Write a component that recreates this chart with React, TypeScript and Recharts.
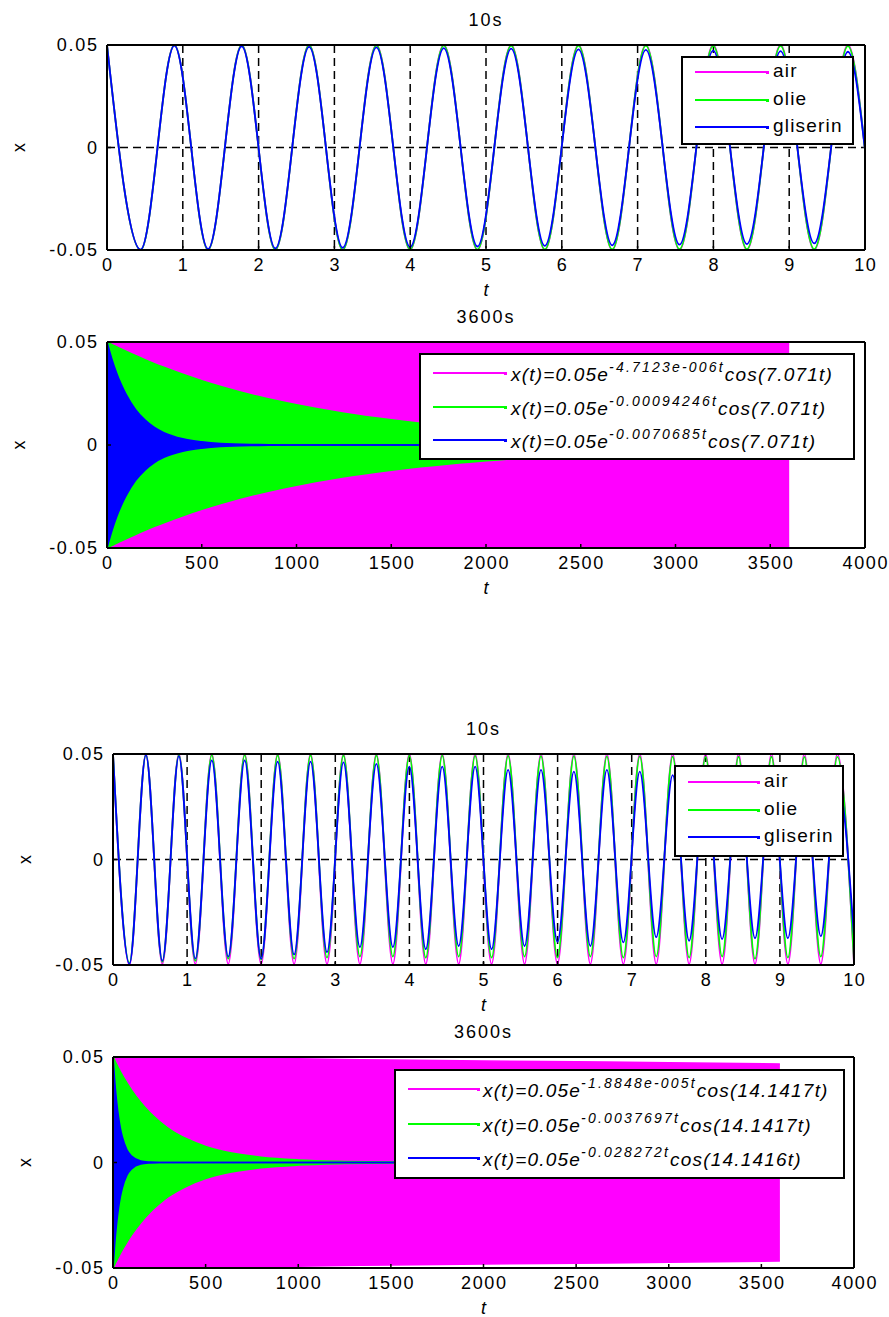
import React from 'react';
import { ComposedChart, Line, Area, XAxis, YAxis, CartesianGrid, Legend, Label } from 'recharts';

const FONT = '"Liberation Sans", Arial, Helvetica, sans-serif';
const COLORS = ['#ff00ff', '#00ff00', '#0000ff'];
const NAMES = ['air', 'olie', 'gliserin'];

// panel 1: 10s, w = 7.071 rad/s (peaks and troughs)
const t10a = [0, 0.444, 0.889, 1.333, 1.777, 2.221, 2.666, 3.110, 3.554, 3.999, 4.443, 4.887, 5.332, 5.776, 6.220, 6.665, 7.109, 7.553, 7.997, 8.442, 8.886, 9.330, 9.775, 10];
const air10a = [0.05, -0.05, 0.05, -0.05, 0.05, -0.05, 0.05, -0.05, 0.05, -0.05, 0.05, -0.05, 0.05, -0.05, 0.05, -0.05, 0.05, -0.05, 0.05, -0.05, 0.05, -0.05, 0.05, -0.001];
const olie10a = [0.05, -0.05, 0.0499, -0.0499, 0.0499, -0.0499, 0.0499, -0.0499, 0.0498, -0.0498, 0.0498, -0.0498, 0.0497, -0.0497, 0.0497, -0.0497, 0.0497, -0.0496, 0.0496, -0.0496, 0.0496, -0.0496, 0.0495, -0.001];
const glis10a = [0.05, -0.0498, 0.0497, -0.0495, 0.0494, -0.0492, 0.0491, -0.0489, 0.0488, -0.0486, 0.0485, -0.0483, 0.0482, -0.048, 0.0479, -0.0477, 0.0476, -0.0474, 0.0473, -0.0471, 0.047, -0.0468, 0.0467, -0.001];

// panel 3: 10s, w = 14.14 rad/s
const t10b = [0, 0.222, 0.444, 0.666, 0.889, 1.111, 1.333, 1.555, 1.777, 1.999, 2.222, 2.444, 2.666, 2.888, 3.110, 3.332, 3.554, 3.777, 3.999, 4.221, 4.443, 4.665, 4.887, 5.109, 5.332, 5.554, 5.776, 5.998, 6.220, 6.442, 6.665, 6.887, 7.109, 7.331, 7.553, 7.775, 7.997, 8.220, 8.442, 8.664, 8.886, 9.108, 9.330, 9.552, 9.775, 10];
const air10b = [
  0.05, -0.05, 0.05, -0.0495, 0.05, -0.0495, 0.05, -0.0495, 0.05, -0.0495, 0.05, -0.0495,
  0.05, -0.0495, 0.05, -0.0495, 0.05, -0.0495, 0.05, -0.0495, 0.05, -0.0495, 0.05, -0.0495,
  0.05, -0.0495, 0.05, -0.0495, 0.05, -0.0495, 0.05, -0.0495, 0.05, -0.0495, 0.05, -0.0495,
  0.05, -0.0495, 0.05, -0.0495, 0.05, -0.0495, 0.05, -0.0495, 0.05, -0.0495,
];
const olie10b = [
  0.05, -0.049, 0.0497, -0.0485, 0.0496, -0.048, 0.0495, -0.047, 0.0495, -0.0475, 0.0494, -0.047,
  0.0494, -0.0465, 0.0493, -0.046, 0.0493, -0.046, 0.0492, -0.0465, 0.0492, -0.046, 0.0491, -0.0465,
  0.0491, -0.046, 0.049, -0.0465, 0.049, -0.046, 0.0489, -0.0465, 0.0489, -0.046, 0.0488, -0.0465,
  0.0488, -0.046, 0.0487, -0.047, 0.0487, -0.0465, 0.0486, -0.046, 0.0486, -0.0482,
];
const glis10b = [
  0.05, -0.0495, 0.0495, -0.048, 0.049, -0.047, 0.047, -0.046, 0.047, -0.047, 0.0464, -0.045,
  0.0464, -0.0439, 0.046, -0.0415, 0.0453, -0.0415, 0.044, -0.0425, 0.044, -0.041, 0.044, -0.0425,
  0.0425, -0.041, 0.0425, -0.039, 0.0416, -0.041, 0.0425, -0.0393, 0.0416, -0.0368, 0.04, -0.0385,
  0.04, -0.0377, 0.0394, -0.0373, 0.039, -0.0373, 0.0384, -0.0363, 0.038, -0.0368,
];

// panel 2: 3600s envelopes, w = 7.071 rad/s
const t3600a = [0, 25, 50, 75, 100, 150, 200, 250, 300, 400, 500, 600, 800, 1000, 1250, 1500, 2000, 2500, 3000, 3600];
const airEnvA = [0.05, 0.05, 0.05, 0.05, 0.05, 0.05, 0.05, 0.0499, 0.0499, 0.0499, 0.0499, 0.0499, 0.0498, 0.0498, 0.0497, 0.0496, 0.0495, 0.0494, 0.0493, 0.0492];
const olieEnvA = [0.05, 0.0488, 0.0477, 0.0466, 0.0455, 0.0434, 0.0414, 0.0395, 0.0377, 0.0343, 0.0312, 0.0284, 0.0235, 0.0195, 0.0154, 0.0122, 0.0076, 0.0047, 0.003, 0.0017];
const glisEnvA = [0.05, 0.0419, 0.0351, 0.0294, 0.0247, 0.0173, 0.0122, 0.0085, 0.006, 0.003, 0.0015, 0.0007, 0.0002, 0, 0, 0, 0, 0, 0, 0];

// panel 4: 3600s envelopes, w = 14.14 rad/s
const t3600b = [0, 10, 20, 30, 40, 50, 75, 100, 150, 200, 250, 300, 400, 500, 600, 800, 1000, 1250, 1500, 2000, 2500, 3000, 3600];
const airEnvB = [0.05, 0.05, 0.05, 0.05, 0.05, 0.05, 0.05, 0.05, 0.0499, 0.0498, 0.0498, 0.0497, 0.0496, 0.0495, 0.0494, 0.0493, 0.0491, 0.0488, 0.0486, 0.0481, 0.0477, 0.0473, 0.0467];
const olieEnvB = [0.05, 0.0482, 0.0464, 0.0447, 0.043, 0.0414, 0.0377, 0.0343, 0.0284, 0.0235, 0.0195, 0.0161, 0.0111, 0.0076, 0.0052, 0.0025, 0.0012, 0.0005, 0.0002, 0, 0, 0, 0];
const glisEnvB = [0.05, 0.0377, 0.0284, 0.0214, 0.0161, 0.0122, 0.006, 0.003, 0.0007, 0.0002, 0, 0, 0, 0, 0, 0, 0, 0, 0, 0, 0, 0, 0];

const xTicks10 = [0, 1, 2, 3, 4, 5, 6, 7, 8, 9, 10];
const xTicks3600 = [0, 500, 1000, 1500, 2000, 2500, 3000, 3500, 4000];
const yTicks = [-0.05, 0, 0.05];

const legendExpA = ['-4.7123e-006t', '-0.00094246t', '-0.0070685t'];
const legendCosA = ['cos(7.071t)', 'cos(7.071t)', 'cos(7.071t)'];
const legendExpB = ['-1.8848e-005t', '-0.0037697t', '-0.028272t'];
const legendCosB = ['cos(14.1417t)', 'cos(14.1417t)', 'cos(14.1416t)'];

const toLines = (t: number[], a: number[], o: number[], g: number[]) =>
  t.map((tt, i) => ({ t: tt, air: a[i], olie: o[i], glis: g[i] }));
const toBands = (t: number[], a: number[], o: number[], g: number[]) =>
  t.map((tt, i) => ({ t: tt, air: [-a[i], a[i]], olie: [-o[i], o[i]], glis: [-g[i], g[i]] }));

const FS = 18;
const LS = 1.7;

const BottomTick = (props: any) => (
  <text x={props.x + LS / 2} y={props.y} textAnchor="middle" fontFamily={FONT} fontSize={FS} letterSpacing={LS} fill="#000">
    {props.payload.value}
  </text>
);
const LeftTick = (props: any) => (
  <text x={props.x + LS} y={props.y} dy="0.36em" textAnchor="end" fontFamily={FONT} fontSize={FS} letterSpacing={LS} fill="#000">
    {props.payload.value === 0 ? '0' : String(props.payload.value)}
  </text>
);
const NoTick = () => <g />;

type Panel = {
  top: number; height: number; left: number; right: number; plotTop: number; plotBottom: number;
  title: string; xMax: number; xTicks: number[];
  legend: { left: number; top: number; width: number; height: number; lineX: number; lineLen: number; textX: number; rows: number[]; textTop: number };
};

const W = 889;
const AX = { stroke: '#000', strokeWidth: 2 };
const TL = { stroke: '#000', strokeWidth: 1.5 };

function LegendBox({ spec, labels, italic }: { spec: Panel['legend']; labels: React.ReactNode[]; italic?: boolean }) {
  return (
    <div style={{ position: 'relative', width: spec.width, height: spec.height, border: '2px solid #000', boxSizing: 'border-box', background: '#fff' }}>
      {labels.map((lab, i) => (
        <React.Fragment key={i}>
          <div style={{ position: 'absolute', left: spec.lineX - 2, top: spec.rows[i] - 2.8, width: spec.lineLen, height: 1.6, background: COLORS[i] }} />
          <div style={{ position: 'absolute', left: spec.lineX + spec.lineLen - 3.5, top: spec.rows[i] - 3.5, width: 3, height: 3, background: COLORS[i] }} />
          <div
            style={{
              position: 'absolute', left: spec.textX - 2, top: spec.rows[i] - 2 + spec.textTop, lineHeight: '22px', whiteSpace: 'nowrap',
              fontFamily: FONT, fontSize: 19, letterSpacing: 1.2, color: '#000', fontStyle: italic ? 'italic' : 'normal',
            }}
          >
            {lab}
          </div>
        </React.Fragment>
      ))}
    </div>
  );
}

const formula = (exp: string, tail: string) => (
  <span>
    x(t)=0.05e
    <span style={{ fontSize: 14, letterSpacing: 2.2, position: 'relative', top: -9 }}>{exp}</span>
    {tail}
  </span>
);

function Frame({ p, children, legend }: { p: Panel; children: React.ReactNode; legend: React.ReactNode }) {
  const cx = (p.left + p.right) / 2;
  const cy = (p.plotTop + p.plotBottom) / 2;
  return (
    <div style={{ position: 'absolute', left: 0, top: p.top }}>
      <ComposedChart
        width={W}
        height={p.height}
        margin={{ top: p.plotTop - 1, bottom: p.height - p.plotBottom - 1, left: p.left - 1, right: W - p.right - 1 }}
      >
        {children}
        <XAxis
          dataKey="t" type="number" domain={[0, p.xMax]} ticks={p.xTicks} interval={0} height={1}
          axisLine={AX} tickLine={TL} tickSize={-4} tickMargin={25} tick={BottomTick}
        >
          <Label
            value="t"
            content={() => (
              <text x={cx} y={p.plotBottom + 46} textAnchor="middle" fontFamily={FONT} fontSize={FS} fontStyle="italic" fill="#000">t</text>
            )}
          />
        </XAxis>
        <XAxis
          xAxisId="top" orientation="top" dataKey="t" type="number" domain={[0, p.xMax]} ticks={p.xTicks} interval={0} height={1}
          axisLine={AX} tickLine={TL} tickSize={-4} tick={NoTick}
        >
          <Label
            value={p.title}
            content={() => (
              <text x={cx} y={p.plotTop - 19} textAnchor="middle" fontFamily={FONT} fontSize={FS} letterSpacing={2} fill="#000">{p.title}</text>
            )}
          />
        </XAxis>
        <YAxis
          type="number" domain={[-0.05, 0.05]} ticks={yTicks} interval={0} width={1}
          axisLine={AX} tickLine={TL} tickSize={-4} tickMargin={14} tick={LeftTick}
        >
          <Label
            value="x"
            content={() => (
              <text x={p.left - 88} y={cy} transform={`rotate(-90, ${p.left - 88}, ${cy})`} textAnchor="middle" dominantBaseline="central" fontFamily={FONT} fontSize={FS} fill="#000">x</text>
            )}
          />
        </YAxis>
        <YAxis
          yAxisId="right" orientation="right" type="number" domain={[-0.05, 0.05]} ticks={yTicks} interval={0} width={1}
          axisLine={AX} tickLine={TL} tickSize={-4} tick={NoTick}
        />
        <Legend
          layout="vertical" align="center" verticalAlign="middle"
          wrapperStyle={{ left: p.legend.left, top: p.legend.top, width: p.legend.width, height: p.legend.height }}
          content={() => legend}
        />
      </ComposedChart>
    </div>
  );
}

const P1: Panel = {
  top: 0, height: 300, left: 107, right: 865, plotTop: 45, plotBottom: 250, title: '10s', xMax: 10, xTicks: xTicks10,
  legend: { left: 681, top: 56, width: 173, height: 89, lineX: 14, lineLen: 72, textX: 92, rows: [16, 44, 71], textTop: -12 },
};
const P2: Panel = {
  top: 300, height: 305, left: 107, right: 865, plotTop: 42, plotBottom: 248, title: '3600s', xMax: 4000, xTicks: xTicks3600,
  legend: { left: 419, top: 53, width: 436, height: 107, lineX: 14, lineLen: 72, textX: 92, rows: [20, 54, 87], textTop: -9 },
};
const P3: Panel = {
  top: 690, height: 325, left: 113, right: 854, plotTop: 64, plotBottom: 275, title: '10s', xMax: 10, xTicks: xTicks10,
  legend: { left: 674, top: 75, width: 170, height: 92, lineX: 14, lineLen: 70, textX: 90, rows: [17, 45, 72], textTop: -12 },
};
const P4: Panel = {
  top: 1010, height: 307, left: 113, right: 854, plotTop: 47, plotBottom: 258, title: '3600s', xMax: 4000, xTicks: xTicks3600,
  legend: { left: 394, top: 59, width: 451, height: 110, lineX: 14, lineLen: 70, textX: 89, rows: [20, 55, 89], textTop: -9 },
};

const lineKeys = ['air', 'olie', 'glis'];

function WavePanel({ p, data }: { p: Panel; data: any[] }) {
  return (
    <Frame p={p} legend={<LegendBox spec={p.legend} labels={NAMES} />}>
      <CartesianGrid stroke="#000" strokeWidth={1.5} strokeDasharray="8 5" />
      {lineKeys.map((k, i) => (
        <Line
          key={k} data={data} dataKey={k} name={NAMES[i]} type="monotone" stroke={COLORS[i]} strokeWidth={1.8}
          dot={false} activeDot={false} isAnimationActive={false}
        />
      ))}
    </Frame>
  );
}

function BandPanel({ p, data, exps, tails }: { p: Panel; data: any[]; exps: string[]; tails: string[] }) {
  return (
    <Frame p={p} legend={<LegendBox spec={p.legend} labels={exps.map((e, i) => formula(e, tails[i]))} italic />}>
      {lineKeys.map((k, i) => (
        <Area
          key={k} data={data} dataKey={k} name={NAMES[i]} type="monotone" stroke={COLORS[i]} strokeWidth={1.6}
          fill={COLORS[i]} fillOpacity={1} dot={false} activeDot={false} isAnimationActive={false}
        />
      ))}
    </Frame>
  );
}

export default function App() {
  const d1 = toLines(t10a, air10a, olie10a, glis10a);
  const d2 = toBands(t3600a, airEnvA, olieEnvA, glisEnvA);
  const d3 = toLines(t10b, air10b, olie10b, glis10b);
  const d4 = toBands(t3600b, airEnvB, olieEnvB, glisEnvB);
  return (
    <div style={{ position: 'absolute', left: 0, top: 0, width: W, height: 1317, background: '#fff', overflow: 'hidden' }}>
      <WavePanel p={P1} data={d1} />
      <BandPanel p={P2} data={d2} exps={legendExpA} tails={legendCosA} />
      <WavePanel p={P3} data={d3} />
      <BandPanel p={P4} data={d4} exps={legendExpB} tails={legendCosB} />
    </div>
  );
}
